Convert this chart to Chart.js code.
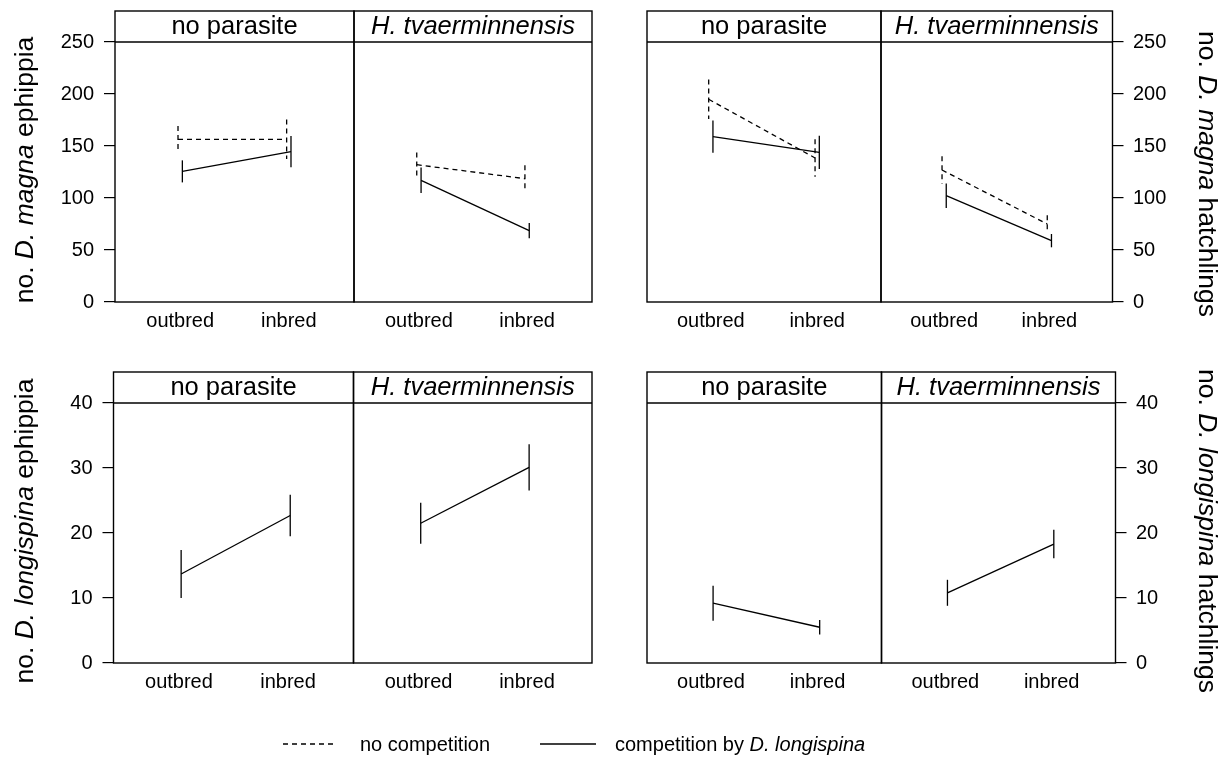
<!DOCTYPE html>
<html>
<head>
<meta charset="utf-8">
<script src="https://cdn.jsdelivr.net/npm/chart.js@4/dist/chart.umd.min.js"></script>
<style>
  html, body { margin: 0; padding: 0; background: #fff; }
  #wrap { position: relative; width: 1222px; height: 765px; overflow: hidden; background: #fff; }
  #wrap canvas { position: absolute; left: 0; top: 0; }
</style>
</head>
<body>
<div id="wrap"></div>
<script>
// ---- data -------------------------------------------------------------
const categories = ['outbred', 'inbred'];
const catPos = [1, 2];
const parasiteLevels = ['no parasite', 'H. tvaerminnensis'];
const magnaTicks = [0, 50, 100, 150, 200, 250];
const longiTicks = [0, 10, 20, 30, 40];

// means per parasite level ([no parasite, H. tvaerminnensis]) x host type ([outbred, inbred])
const magnaEphNoComp   = [[156.4, 156.4], [132.0, 118.6]];
const magnaEphNoCompSE = [[12.8, 19.0], [11.7, 12.8]];
const magnaEphComp     = [[125.6, 144.5], [117.0, 68.6]];
const magnaEphCompSE   = [[10.6, 15.0], [12.3, 7.4]];

const magnaHatNoComp   = [[194.9, 138.5], [126.9, 75.0]];
const magnaHatNoCompSE = [[19.0, 18.0], [13.2, 8.5]];
const magnaHatComp     = [[159.0, 143.9], [102.2, 59.0]];
const magnaHatCompSE   = [[15.5, 16.0], [11.8, 6.4]];

const longiEphComp     = [[13.7, 22.7], [21.5, 30.1]];
const longiEphCompSE   = [[3.7, 3.2], [3.15, 3.55]];
const longiHatComp     = [[9.2, 5.5], [10.8, 18.3]];
const longiHatCompSE   = [[2.7, 1.1], [2.0, 2.2]];

// ---- styling / layout ---------------------------------------------------
const FONT = '"Liberation Sans", Arial, Helvetica, sans-serif';
const W = 1222, H = 765;
const DODGE = 0.02;
const DASH = [5, 4];
const AXIS_W = 60, AXIS_H = 40, STRIP_H = 31;

Chart.defaults.font.family = FONT;
Chart.defaults.color = '#000';

const wrap = document.getElementById('wrap');

// error bars, panel frame and strip label
const panelFrame = {
  id: 'panelFrame',
  afterDatasetsDraw(chart, args, opts) {
    const { ctx, chartArea: a, scales: { x, y } } = chart;
    ctx.save();
    ctx.strokeStyle = '#000';
    ctx.lineWidth = 1.3;
    chart.data.datasets.forEach(ds => {
      ctx.setLineDash(ds.borderDash || []);
      ds.data.forEach((pt, i) => {
        const px = x.getPixelForValue(pt.x);
        ctx.beginPath();
        ctx.moveTo(px, y.getPixelForValue(pt.y + ds.se[i]));
        ctx.lineTo(px, y.getPixelForValue(pt.y - ds.se[i]));
        ctx.stroke();
      });
    });
    ctx.setLineDash([]);
    ctx.lineWidth = 1.4;
    ctx.strokeRect(a.left, a.top - STRIP_H, a.right - a.left, a.bottom - a.top + STRIP_H);
    ctx.beginPath();
    ctx.moveTo(a.left, a.top);
    ctx.lineTo(a.right, a.top);
    ctx.stroke();
    ctx.fillStyle = '#000';
    ctx.font = (opts.italic ? 'italic ' : '') + '25.5px ' + FONT;
    ctx.textAlign = 'center';
    ctx.textBaseline = 'alphabetic';
    ctx.fillText(opts.strip, (a.left + a.right) / 2, a.top - 8.5);
    ctx.restore();
  }
};

// mixed upright / italic text, centred at (cx, by) on its baseline
function drawRich(ctx, segs, cx, by, rot, size) {
  ctx.save();
  ctx.translate(cx, by);
  ctx.rotate(rot);
  let total = 0;
  segs.forEach(s => { ctx.font = (s[1] ? 'italic ' : '') + size + 'px ' + FONT; total += ctx.measureText(s[0]).width; });
  let xx = -total / 2;
  ctx.fillStyle = '#000';
  ctx.textAlign = 'left';
  ctx.textBaseline = 'alphabetic';
  segs.forEach(s => {
    ctx.font = (s[1] ? 'italic ' : '') + size + 'px ' + FONT;
    ctx.fillText(s[0], xx, 0);
    xx += ctx.measureText(s[0]).width;
  });
  ctx.restore();
}

function drawRichLeft(ctx, segs, x0, by, size) {
  ctx.save();
  ctx.fillStyle = '#000';
  ctx.textAlign = 'left';
  ctx.textBaseline = 'alphabetic';
  let xx = x0;
  segs.forEach(s => {
    ctx.font = (s[1] ? 'italic ' : '') + size + 'px ' + FONT;
    ctx.fillText(s[0], xx, by);
    xx += ctx.measureText(s[0]).width;
  });
  ctx.restore();
}

// axis titles and key
const pageText = {
  id: 'pageText',
  afterDraw(chart) {
    const ctx = chart.ctx;
    const T = 26.5;
    drawRich(ctx, [['no. ', 0], ['D. magna', 1], [' ephippia', 0]], 32.5, 170, -Math.PI / 2, T);
    drawRich(ctx, [['no. ', 0], ['D. longispina', 1], [' ephippia', 0]], 32.5, 531, -Math.PI / 2, T);
    drawRich(ctx, [['no. ', 0], ['D. magna', 1], [' hatchlings', 0]], 1198.5, 174, Math.PI / 2, T);
    drawRich(ctx, [['no. ', 0], ['D. longispina', 1], [' hatchlings', 0]], 1198.5, 531, Math.PI / 2, T);

    ctx.save();
    ctx.strokeStyle = '#000';
    ctx.lineWidth = 1.3;
    ctx.setLineDash(DASH);
    ctx.beginPath(); ctx.moveTo(283, 744); ctx.lineTo(337, 744); ctx.stroke();
    ctx.setLineDash([]);
    ctx.beginPath(); ctx.moveTo(540, 744); ctx.lineTo(596, 744); ctx.stroke();
    ctx.restore();
    drawRichLeft(ctx, [['no competition', 0]], 360, 751, 20);
    drawRichLeft(ctx, [['competition by ', 0], ['D. longispina', 1]], 615, 751, 20);
  }
};

function makePanel(cfg) {
  const c = document.createElement('canvas');
  c.width = W; c.height = H;
  c.style.width = W + 'px'; c.style.height = H + 'px';
  wrap.appendChild(c);

  const showY = cfg.axis !== 'none';
  const pad = {
    top: cfg.T,
    bottom: H - cfg.B - AXIS_H,
    left: cfg.axis === 'left' ? cfg.L - AXIS_W : cfg.L,
    right: cfg.axis === 'right' ? W - cfg.R - AXIS_W : W - cfg.R
  };

  const datasets = cfg.series.map(s => ({
    data: catPos.map((p, i) => ({ x: p + s.shift, y: s.mean[i] })),
    se: s.se,
    borderColor: '#000',
    borderWidth: 1.3,
    borderDash: s.dash,
    pointRadius: 0,
    fill: false,
    tension: 0
  }));

  new Chart(c, {
    type: 'line',
    data: { datasets },
    options: {
      responsive: false,
      animation: false,
      devicePixelRatio: 1,
      layout: { padding: pad },
      plugins: {
        legend: { display: false },
        tooltip: { enabled: false },
        panelFrame: { strip: cfg.strip, italic: cfg.italic }
      },
      scales: {
        x: {
          type: 'linear',
          min: 0.4, max: 2.6,
          position: 'bottom',
          afterBuildTicks: a => { a.ticks = catPos.map(v => ({ value: v })); },
          afterFit: a => { a.height = AXIS_H; },
          ticks: {
            callback: v => categories[catPos.indexOf(v)],
            padding: 7, maxRotation: 0, autoSkip: false,
            font: { size: 20 }, color: '#000'
          },
          grid: { display: false, drawTicks: false },
          border: { display: false }
        },
        y: {
          type: 'linear',
          display: showY,
          position: cfg.axis === 'right' ? 'right' : 'left',
          min: 0, max: cfg.ticks[cfg.ticks.length - 1],
          afterBuildTicks: a => { a.ticks = cfg.ticks.map(v => ({ value: v })); },
          afterFit: a => { a.width = showY ? AXIS_W : 0; },
          ticks: { padding: cfg.axis === 'right' ? 9.5 : 10, font: { size: 20 }, color: '#000' },
          grid: { display: true, drawOnChartArea: false, drawTicks: true, tickLength: 11, color: '#000', lineWidth: 1.2 },
          border: { display: false }
        }
      }
    },
    plugins: cfg.first ? [panelFrame, pageText] : [panelFrame]
  });
}

// ---- panels -----------------------------------------------------------
const rows = {
  top:    { T: 42,  B: 302, edges: [[115, 354, 592], [647, 881, 1112.5]] },
  bottom: { T: 403, B: 663, edges: [[113.5, 353.5, 592], [647, 881.5, 1115.5]] }
};

function twoSeries(noComp, noCompSE, comp, compSE, p) {
  return [
    { mean: noComp[p], se: noCompSE[p], shift: -DODGE, dash: DASH },
    { mean: comp[p],   se: compSE[p],   shift: DODGE,  dash: [] }
  ];
}
function oneSeries(comp, compSE, p) {
  return [{ mean: comp[p], se: compSE[p], shift: DODGE, dash: [] }];
}

const groups = [
  { row: 'top', g: 0, ticks: magnaTicks, side: 'left',
    series: p => twoSeries(magnaEphNoComp, magnaEphNoCompSE, magnaEphComp, magnaEphCompSE, p) },
  { row: 'top', g: 1, ticks: magnaTicks, side: 'right',
    series: p => twoSeries(magnaHatNoComp, magnaHatNoCompSE, magnaHatComp, magnaHatCompSE, p) },
  { row: 'bottom', g: 0, ticks: longiTicks, side: 'left',
    series: p => oneSeries(longiEphComp, longiEphCompSE, p) },
  { row: 'bottom', g: 1, ticks: longiTicks, side: 'right',
    series: p => oneSeries(longiHatComp, longiHatCompSE, p) }
];

let first = true;
groups.forEach(gr => {
  const r = rows[gr.row];
  const e = r.edges[gr.g];
  parasiteLevels.forEach((lvl, p) => {
    let axis = 'none';
    if (gr.side === 'left' && p === 0) axis = 'left';
    if (gr.side === 'right' && p === 1) axis = 'right';
    makePanel({
      L: e[p], R: e[p + 1], T: r.T, B: r.B,
      axis, ticks: gr.ticks,
      strip: lvl, italic: p === 1,
      series: gr.series(p),
      first
    });
    first = false;
  });
});
</script>
</body>
</html>
